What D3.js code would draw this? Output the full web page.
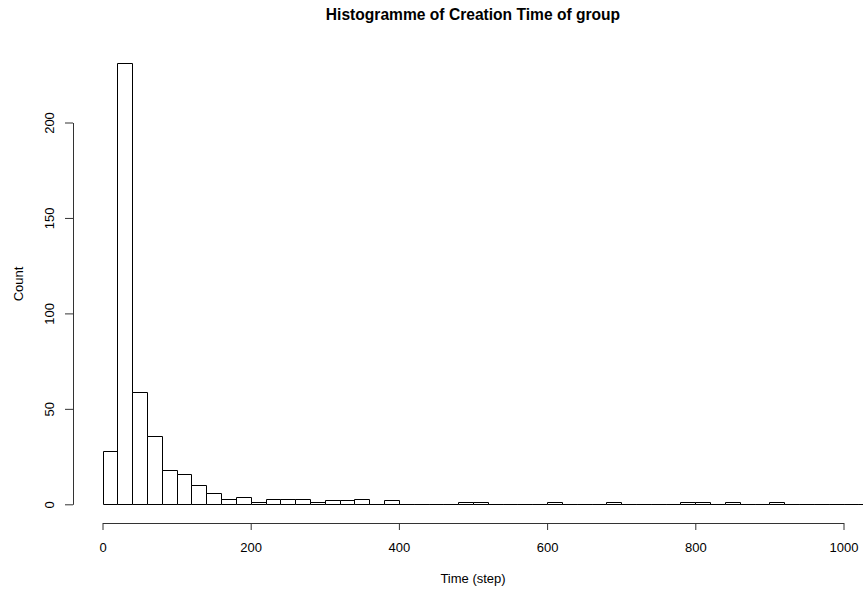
<!DOCTYPE html>
<html>
<head>
<meta charset="utf-8">
<script src="https://cdn.jsdelivr.net/npm/d3@7"></script>
<style>
  html, body { margin: 0; padding: 0; background: #fff; }
  svg { display: block; font-family: "Liberation Sans", Arial, Helvetica, sans-serif; }
</style>
</head>
<body>
<svg id="chart" width="863" height="592"></svg>
<script>
// Histogram data: bin width and counts per bin, starting at 0
const binWidth = 20;
const counts = [
  28, 231, 59, 36, 18, 16, 10, 6, 3, 4,      // 0 - 200
  1, 3, 3, 3, 1, 2, 2, 3, 0, 2,              // 200 - 400
  0, 0, 0, 0, 1, 1, 0, 0, 0, 0,              // 400 - 600
  1, 0, 0, 0, 1, 0, 0, 0, 0, 1,              // 600 - 800
  1, 0, 1, 0, 0, 1, 0, 0, 0, 0,              // 800 - 1000
  0, 0, 0, 0, 0                              // 1000 - 1100
];
const xTicks = [0, 200, 400, 600, 800, 1000];
const yTicks = [0, 50, 100, 150, 200];
const titleText = "Histogramme of Creation Time of group";
const xLabel = "Time (step)";
const yLabel = "Count";

const svg = d3.select("#chart");

// Scales (unclamped, bars may extend past the tick range)
const x = d3.scaleLinear().domain([0, 1000]).range([102.5, 843.5]);
const y = d3.scaleLinear().domain([0, 200]).range([504.3, 122.5]);

// Plot region clip
svg.append("clipPath").attr("id", "plotclip")
  .append("rect").attr("x", 72.7).attr("y", 45).attr("width", 801).attr("height", 478);

const bins = counts.map((c, i) => ({ x0: i * binWidth, x1: (i + 1) * binWidth, n: c }));

svg.append("g").attr("clip-path", "url(#plotclip)")
  .selectAll("path.bar").data(bins).join("path")
  .attr("class", "bar")
  .attr("d", d => {
    const a = Math.round(x(d.x0)) + 0.5, b = Math.round(x(d.x1)) + 0.5;
    const base = Math.round(y(0)) + 0.5, top = Math.round(y(d.n)) + 0.5;
    return `M${a},${base}V${top}H${b}V${base}Z`;
  })
  .attr("fill", "#fff")
  .attr("stroke", "#000")
  .attr("stroke-width", 1);

// X axis
const xAxis = svg.append("g")
  .attr("transform", "translate(0,523)")
  .call(d3.axisBottom(x).tickValues(xTicks).tickSize(7).tickSizeOuter(0).tickFormat(d3.format("d")));
xAxis.select(".domain").attr("stroke", "#333");
xAxis.selectAll(".tick line").attr("stroke", "#333");
xAxis.selectAll(".tick text")
  .attr("y", 28.7).attr("dy", null)
  .attr("font-size", 13).attr("fill", "#000")
  .attr("font-family", "Liberation Sans, Arial, sans-serif");

// Y axis
const yAxis = svg.append("g")
  .attr("transform", "translate(73,0)")
  .call(d3.axisLeft(y).tickValues(yTicks).tickSize(8).tickSizeOuter(0).tickFormat(d3.format("d")));
yAxis.select(".domain").attr("stroke", "#333");
yAxis.selectAll(".tick line").attr("stroke", "#333");
yAxis.selectAll(".tick text")
  .attr("transform", "rotate(-90)")
  .attr("x", 0).attr("y", -18.6).attr("dy", null)
  .attr("text-anchor", "middle")
  .attr("font-size", 13).attr("fill", "#000")
  .attr("font-family", "Liberation Sans, Arial, sans-serif");

// Title
svg.append("text")
  .attr("x", 473).attr("y", 19.5)
  .attr("text-anchor", "middle")
  .attr("font-size", 15.6).attr("font-weight", "bold")
  .text(titleText);

// Axis labels
svg.append("text")
  .attr("x", 473).attr("y", 582.5)
  .attr("text-anchor", "middle")
  .attr("font-size", 13)
  .text(xLabel);

svg.append("text")
  .attr("transform", "translate(23,284) rotate(-90)")
  .attr("text-anchor", "middle")
  .attr("font-size", 13)
  .text(yLabel);
</script>
</body>
</html>
